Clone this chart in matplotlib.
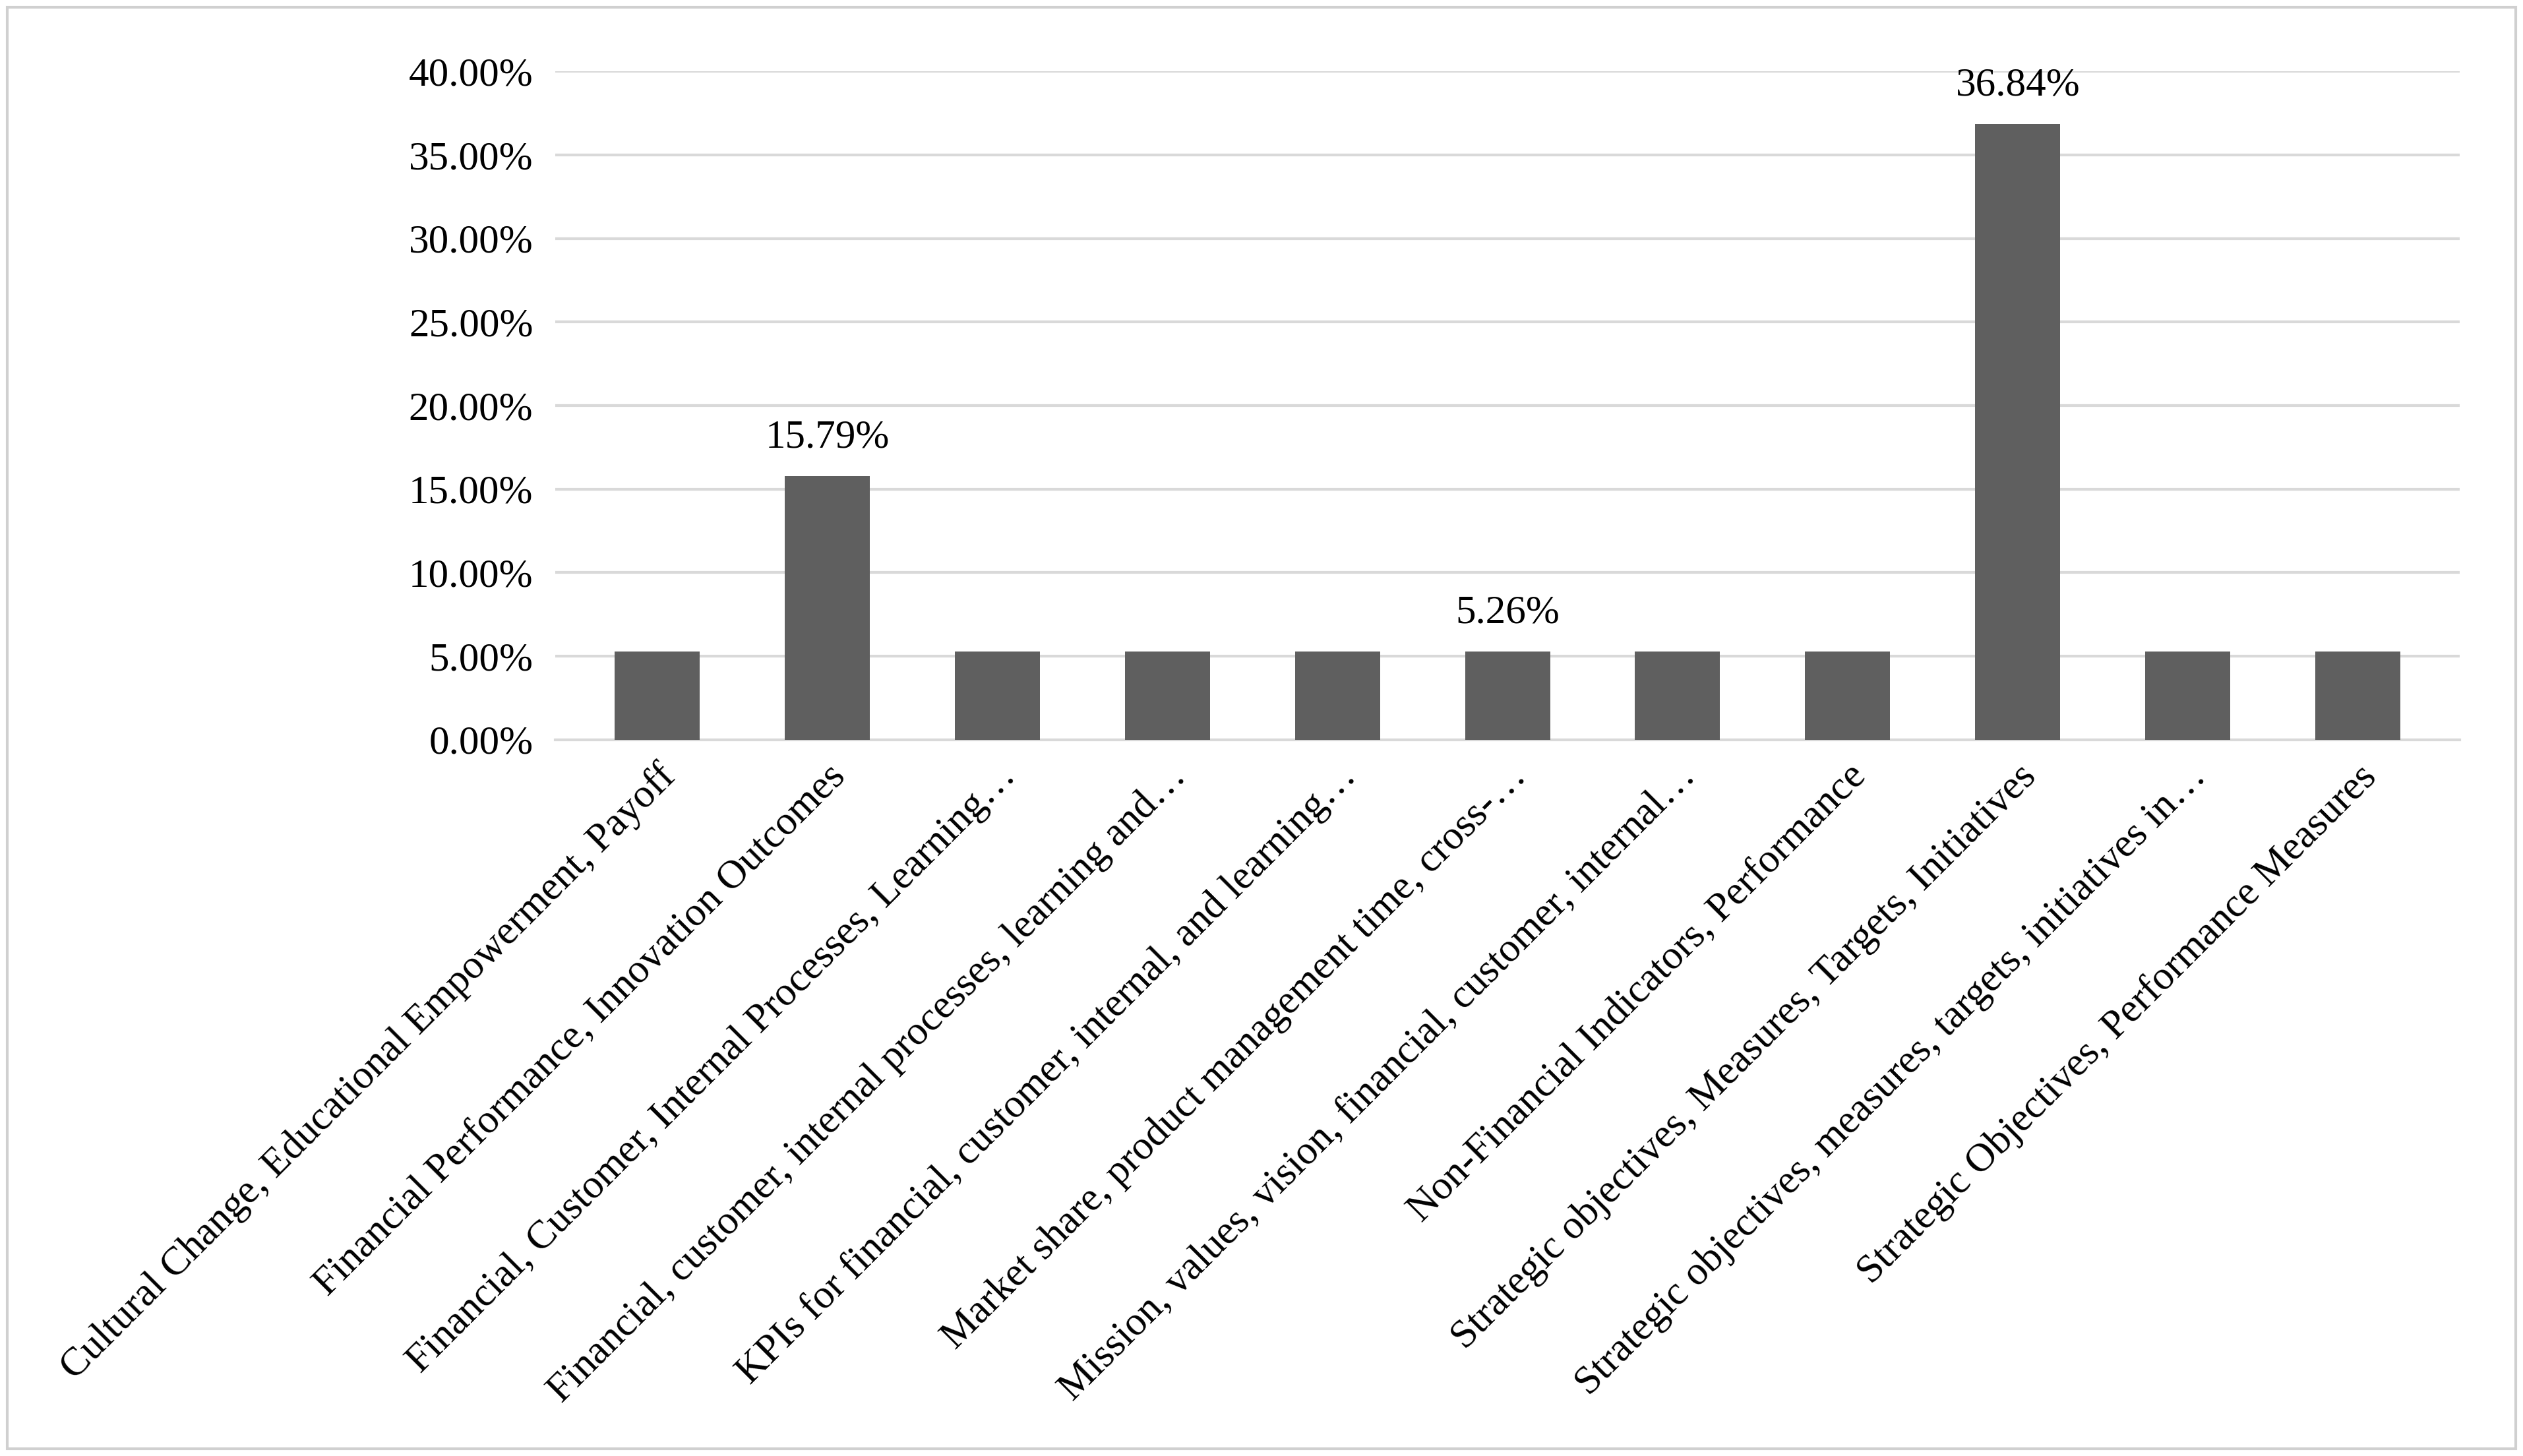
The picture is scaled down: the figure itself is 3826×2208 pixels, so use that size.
import matplotlib.pyplot as plt
from matplotlib.patches import Rectangle

categories = [
    "Cultural Change, Educational Empowerment, Payoff",
    "Financial Performance, Innovation Outcomes",
    "Financial, Customer, Internal Processes, Learning\u2026",
    "Financial, customer, internal processes, learning and\u2026",
    "KPIs for financial, customer, internal, and learning\u2026",
    "Market share, product management time, cross-\u2026",
    "Mission, values, vision, financial, customer, internal\u2026",
    "Non-Financial Indicators, Performance",
    "Strategic objectives, Measures, Targets, Initiatives",
    "Strategic objectives, measures, targets, initiatives in\u2026",
    "Strategic Objectives, Performance Measures",
]
values = [5.26, 15.79, 5.26, 5.26, 5.26, 5.26, 5.26, 5.26, 36.84, 5.26, 5.26]
labelled = [1, 5, 8]

plt.rcParams['font.family'] = ['Liberation Serif', 'DejaVu Serif']

fig = plt.figure(figsize=(19.13, 11.04), dpi=200)
ax = fig.add_axes([0.22, 0.492, 0.755, 0.459])
x = range(len(values))
ax.bar(x, values, width=0.5, color='#5f5f5f', zorder=3)
for i in labelled:
    ax.text(i, values[i] + 1.2, f"{values[i]:.2f}%", ha='center', va='bottom', fontsize=22)

ax.set_ylim(0, 40)
ax.set_xlim(-0.6, len(values) - 0.4)
ax.set_yticks(range(0, 41, 5))
ax.set_yticklabels([f"{v:.2f}%" for v in range(0, 41, 5)], fontsize=22)
ax.yaxis.grid(True, color='#d9d9d9', linewidth=1.5, zorder=0)
for s in ['top', 'right', 'left']:
    ax.spines[s].set_visible(False)
ax.spines['bottom'].set_color('#d9d9d9')
ax.spines['bottom'].set_linewidth(1.5)
ax.tick_params(axis='y', length=0, pad=12)
ax.tick_params(axis='x', length=0, pad=10)
ax.set_xticks(list(x))
ax.set_xticklabels(categories, rotation=45, ha='right', rotation_mode='anchor', fontsize=22)

fig.patches.append(Rectangle((0.003, 0.005), 0.994, 0.99, transform=fig.transFigure,
                             fill=False, edgecolor='#d0d0d0', linewidth=1.5))
fig.savefig('out.png', dpi=200)
